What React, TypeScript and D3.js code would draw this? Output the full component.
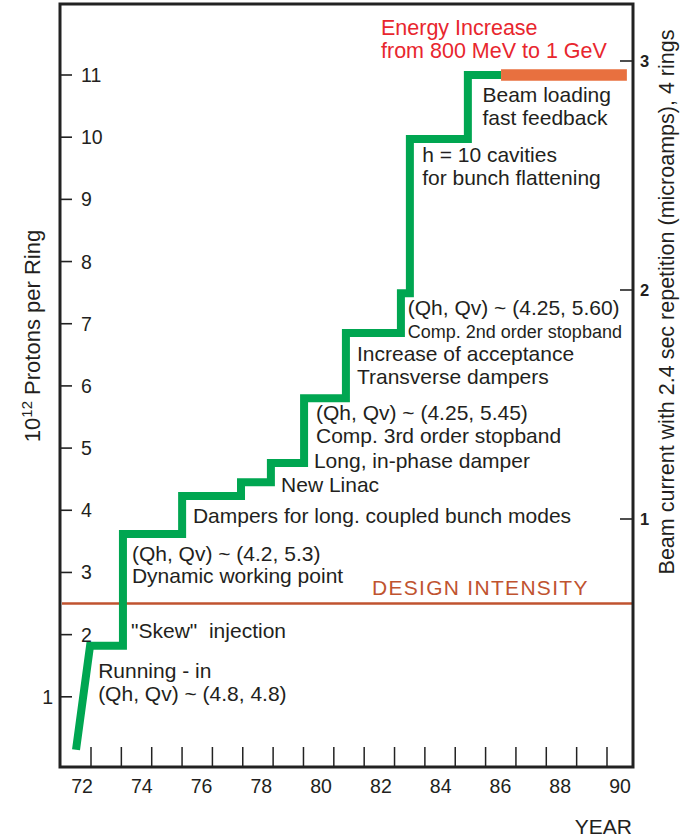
import React from "react";
import * as d3 from "d3";

const W = 691;
const H = 838;

// Step history: [year, 10^12 protons per ring]
const stepYears = [71.8, 72.27, 73.37, 73.37, 75.35, 75.35, 77.32, 77.32, 78.32, 78.32, 79.43, 79.43, 80.83, 80.83, 82.67, 82.67, 82.97, 82.97, 84.91, 84.91, 86.02];
const stepValues = [0.15, 1.82, 1.82, 3.62, 3.62, 4.23, 4.23, 4.45, 4.45, 4.76, 4.76, 5.8, 5.8, 6.85, 6.85, 7.49, 7.49, 9.97, 9.97, 11.0, 11.0];
const energyYears = [86.02, 90.23];
const energyValue = 11.0;
const designIntensity = 2.5;

const leftTicks = [1, 2, 3, 4, 5, 6, 7, 8, 9, 10, 11];
const rightTicks = [1, 2, 3];
const yearLabels = [72, 74, 76, 78, 80, 82, 84, 86, 88, 90];
const yearTicks = d3.range(72, 90);

const annotations: { year: number; value: number; lines: string[]; small?: boolean[] }[] = [
  { year: 72.54, value: 1.3, lines: ["Running - in", "(Qh, Qv) ~ (4.8, 4.8)"] },
  { year: 73.64, value: 1.94, lines: ["\"Skew\"\u00a0 injection"] },
  { year: 73.67, value: 3.19, lines: ["(Qh, Qv) ~ (4.2, 5.3)", "Dynamic working point"] },
  { year: 75.71, value: 3.8, lines: ["Dampers for long. coupled bunch modes"] },
  { year: 78.66, value: 4.3, lines: ["New Linac"] },
  { year: 79.76, value: 4.68, lines: ["Long, in-phase damper"] },
  { year: 79.83, value: 5.45, lines: ["(Qh, Qv) ~ (4.25, 5.45)", "Comp. 3rd order stopband"] },
  { year: 81.2, value: 6.4, lines: ["Increase of acceptance", "Transverse dampers"] },
  { year: 82.9, value: 7.14, lines: ["(Qh, Qv) ~ (4.25, 5.60)", "Comp. 2nd order stopband"], small: [false, true] },
  { year: 83.38, value: 9.6, lines: ["h = 10 cavities", "for bunch flattening"] },
  { year: 85.4, value: 10.56, lines: ["Beam loading", "fast feedback"] },
];

const FONT = "'Liberation Sans', Arial, Helvetica, sans-serif";
const TXT = "#231f20";

export default function App() {
  const frame = { left: 60, right: 633, top: 4, bottom: 767 };
  const x = d3.scaleLinear().domain([72, 90]).range([82, 620]);
  const xTick = d3.scaleLinear().domain([72, 89]).range([91, 607]);
  const y = d3.scaleLinear().domain([0, 11]).range([759, 75]);
  const y2 = d3.scaleLinear().domain([1, 3]).range([519, 61]);

  const stepLine = d3
    .line<number>()
    .x((_, i) => x(stepYears[i]))
    .y((d) => y(d))
    .curve(d3.curveLinear);

  return (
    <svg width={W} height={H} style={{ position: "absolute", left: 0, top: 0, background: "#fff" }} fontFamily={FONT}>
      {/* design intensity */}
      <line x1={frame.left + 2} x2={frame.right - 1} y1={y(designIntensity)} y2={y(designIntensity)} stroke="#c0532f" strokeWidth={2.5} />
      <text x={x(81.7)} y={y(designIntensity) - 9} fontSize={21} fill="#c0532f" letterSpacing={1.3}>
        DESIGN INTENSITY
      </text>

      {/* step curve */}
      <path d={stepLine(stepValues) || ""} fill="none" stroke="#00a651" strokeWidth={8} strokeLinejoin="miter" />
      <line x1={x(energyYears[0])} x2={x(energyYears[1])} y1={y(energyValue)} y2={y(energyValue)} stroke="#e8703f" strokeWidth={11.5} />

      {/* frame */}
      <rect x={frame.left} y={frame.top} width={frame.right - frame.left} height={frame.bottom - frame.top} fill="none" stroke="#222" strokeWidth={3} />

      {/* left ticks */}
      {leftTicks.map((t) => (
        <g key={"l" + t}>
          <line x1={frame.left} x2={frame.left + 12} y1={y(t)} y2={y(t)} stroke="#222" strokeWidth={1.6} />
          <text x={t === 1 ? 53 : frame.left + 21} y={y(t) + 7} fontSize={19.5} fill={TXT} textAnchor={t === 1 ? "end" : "start"}>
            {t}
          </text>
        </g>
      ))}

      {/* right ticks */}
      {rightTicks.map((t) => (
        <g key={"r" + t}>
          <line x1={frame.right - 13} x2={frame.right} y1={y2(t)} y2={y2(t)} stroke="#222" strokeWidth={1.6} />
          <text x={frame.right + 7} y={y2(t) + 6} fontSize={16.5} fontWeight="bold" fill={TXT}>
            {t}
          </text>
        </g>
      ))}

      {/* bottom ticks */}
      {yearTicks.map((t) => (
        <line key={"b" + t} x1={xTick(t)} x2={xTick(t)} y1={frame.bottom} y2={frame.bottom - 20} stroke="#222" strokeWidth={1.5} />
      ))}
      {yearLabels.map((t) => (
        <text key={"bl" + t} x={x(t)} y={793} fontSize={19.5} fill={TXT} textAnchor="middle">
          {t}
        </text>
      ))}
      <text x={frame.right - 1} y={834} fontSize={21} fill={TXT} textAnchor="end">
        YEAR
      </text>

      {/* axis titles */}
      <text transform={`translate(40,336) rotate(-90)`} fontSize={22} fill={TXT} textAnchor="middle">
        10<tspan dy={-8} fontSize={15}>12</tspan>
        <tspan dy={8}> Protons per Ring</tspan>
      </text>
      <text transform={`translate(674,302) rotate(-90)`} fontSize={21.5} fill={TXT} textAnchor="middle">
        Beam current with 2.4 sec repetition (microamps), 4 rings
      </text>

      {/* energy increase note */}
      <text x={381} y={35} fontSize={21.5} fill="#e8262e">
        Energy Increase
      </text>
      <text x={381} y={58} fontSize={21.5} fill="#e8262e">
        from 800 MeV to 1 GeV
      </text>

      {/* annotations */}
      {annotations.map((a, i) => (
        <g key={"a" + i}>
          {a.lines.map((ln, j) => (
            <text
              key={j}
              x={x(a.year)}
              y={y(a.value) + j * 22.5}
              fontSize={a.small && a.small[j] ? 18 : 21}
              fill={TXT}
            >
              {ln}
            </text>
          ))}
        </g>
      ))}
    </svg>
  );
}
